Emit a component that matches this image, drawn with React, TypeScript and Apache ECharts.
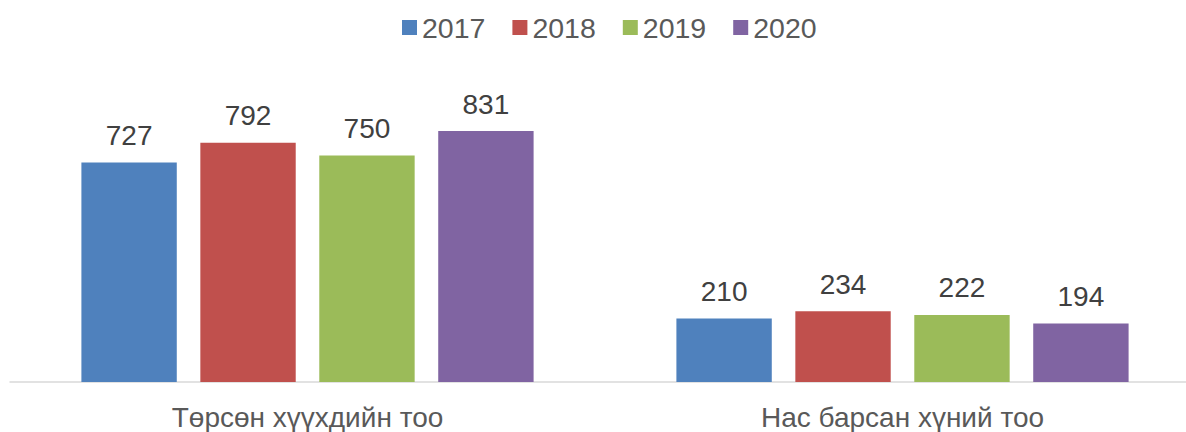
import React, { useEffect, useRef } from "react";
import * as echarts from "echarts";

const categories = ["Төрсөн хүүхдийн тоо", "Нас барсан хүний тоо"];
const seriesNames = ["2017", "2018", "2019", "2020"];
const values2017 = [727, 210];
const values2018 = [792, 234];
const values2019 = [750, 222];
const values2020 = [831, 194];
const colors = ["#4F81BD", "#C0504D", "#9BBB59", "#8064A2"];

export default function App() {
  const ref = useRef<HTMLDivElement>(null);
  useEffect(() => {
    if (!ref.current) return;
    const chart = echarts.init(ref.current, null, { renderer: "svg" });
    const data = [values2017, values2018, values2019, values2020];
    chart.setOption({
      animation: false,
      textStyle: { fontFamily: "Liberation Sans, Arial, sans-serif" },
      legend: {
        top: 8,
        left: 397,
        itemWidth: 15,
        itemHeight: 15,
        itemGap: 27,
        icon: "rect",
        textStyle: { fontSize: 28.5, color: "#595959" },
        data: seriesNames,
      },
      grid: {
        left: 10,
        width: 1190,
        top: 80,
        bottom: 50,
        containLabel: false,
        outerBoundsMode: "none",
      },
      xAxis: {
        type: "category",
        data: categories,
        axisLine: { lineStyle: { color: "#D9D9D9", width: 1.5 } },
        axisTick: { show: false },
        axisLabel: { fontSize: 28, color: "#595959", margin: 21 },
      },
      yAxis: {
        type: "value",
        min: 0,
        max: 1000,
        show: false,
        splitLine: { show: false },
      },
      series: seriesNames.map((name, i) => ({
        name,
        type: "bar",
        data: data[i],
        barGap: "24.7%",
        barCategoryGap: "24%",
        itemStyle: { color: colors[i] },
        label: {
          show: true,
          position: "top",
          distance: 13,
          fontSize: 28,
          color: "#404040",
        },
      })),
    });
    return () => chart.dispose();
  }, []);
  return (
    <div
      ref={ref}
      style={{ position: "absolute", left: 0, top: 0, width: 1186, height: 432 }}
    />
  );
}
